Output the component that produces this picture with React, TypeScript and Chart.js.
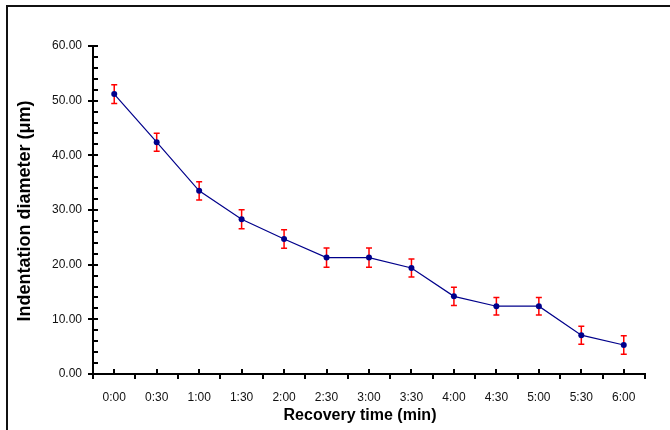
import React, { useEffect, useRef } from "react";
import { Chart, registerables } from "chart.js";

Chart.register(...registerables);

const categories = ["0:00", "0:30", "1:00", "1:30", "2:00", "2:30", "3:00", "3:30", "4:00", "4:30", "5:00", "5:30", "6:00"];
const meanValues = [51.2, 42.4, 33.5, 28.3, 24.7, 21.3, 21.3, 19.4, 14.2, 12.4, 12.4, 7.1, 5.3];
const errorValues = [1.7, 1.65, 1.65, 1.75, 1.7, 1.75, 1.75, 1.65, 1.65, 1.6, 1.6, 1.65, 1.7];
const yTitle = "Indentation diameter (\u03bcm)";
const xTitle = "Recovery time (min)";

const FONT = "'Liberation Sans', Arial, sans-serif";

const decorPlugin = {
  id: "decor",
  beforeDatasetsDraw(chart: any) {
    const ctx = chart.ctx;
    const x = chart.scales.x;
    const y = chart.scales.y;
    ctx.save();
    ctx.strokeStyle = "#ff0000";
    ctx.lineWidth = 1.5;
    meanValues.forEach((v, i) => {
      const px = x.getPixelForValue(i);
      const top = y.getPixelForValue(v + errorValues[i]);
      const bot = y.getPixelForValue(v - errorValues[i]);
      ctx.beginPath();
      ctx.moveTo(px, top);
      ctx.lineTo(px, bot);
      ctx.moveTo(px - 3, top);
      ctx.lineTo(px + 3, top);
      ctx.moveTo(px - 3, bot);
      ctx.lineTo(px + 3, bot);
      ctx.stroke();
    });
    ctx.restore();
  },
  afterDraw(chart: any) {
    const ctx = chart.ctx;
    const x = chart.scales.x;
    const y = chart.scales.y;
    const area = chart.chartArea;
    ctx.save();
    ctx.strokeStyle = "#000";
    ctx.lineWidth = 2;
    // y ticks
    for (let v = 0; v <= 60; v += 2) {
      const py = Math.round(y.getPixelForValue(v));
      ctx.beginPath();
      if (v % 10 === 0) {
        ctx.moveTo(area.left - 5, py);
        ctx.lineTo(area.left + 5, py);
      } else {
        ctx.moveTo(area.left, py);
        ctx.lineTo(area.left + 5, py);
      }
      ctx.stroke();
    }
    // x ticks
    const n = categories.length;
    const w = (area.right - area.left) / n;
    for (let i = 0; i < n; i++) {
      const px = Math.round(x.getPixelForValue(i));
      ctx.beginPath();
      ctx.moveTo(px, area.bottom);
      ctx.lineTo(px, area.bottom - 5);
      ctx.stroke();
    }
    for (let i = 0; i <= n; i++) {
      const px = Math.round(area.left + i * w);
      ctx.beginPath();
      ctx.moveTo(px, area.bottom);
      ctx.lineTo(px, area.bottom + 5);
      ctx.stroke();
    }
    // titles
    ctx.fillStyle = "#000";
    ctx.textAlign = "center";
    ctx.textBaseline = "middle";
    ctx.font = "bold 16px " + FONT;
    ctx.fillText(xTitle, 360, 416);
    ctx.save();
    ctx.translate(25, 211);
    ctx.rotate(-Math.PI / 2);
    ctx.font = "bold 18px " + FONT;
    ctx.fillText(yTitle, 0, 0);
    ctx.restore();
    // outer frame
    ctx.lineWidth = 2;
    ctx.strokeStyle = "#111";
    ctx.strokeRect(7, 6, 700, 460);
    ctx.restore();
  },
};

export default function App() {
  const ref = useRef<HTMLCanvasElement | null>(null);
  useEffect(() => {
    if (!ref.current) return;
    const chart = new Chart(ref.current, {
      type: "line",
      data: {
        labels: categories,
        datasets: [
          {
            data: meanValues,
            borderColor: "#00008b",
            backgroundColor: "#00008b",
            borderWidth: 1.2,
            pointRadius: 3,
            pointBorderWidth: 0,
            pointBackgroundColor: "#00008b",
            tension: 0,
          },
        ],
      },
      options: {
        responsive: false,
        animation: false,
        layout: { padding: { left: 0, top: 46, right: 25, bottom: 0 } },
        plugins: { legend: { display: false }, tooltip: { enabled: false } },
        scales: {
          x: {
            type: "category",
            offset: true,
            grid: { display: false },
            border: { display: true, color: "#000", width: 2 },
            ticks: { color: "#111", padding: 8, font: { family: FONT, size: 12 }, maxRotation: 0 },
            afterFit: (s: any) => { s.height = 56; },
          },
          y: {
            min: 0,
            max: 60,
            grid: { display: false },
            border: { display: true, color: "#000", width: 2 },
            ticks: {
              stepSize: 10,
              color: "#111",
              padding: 3,
              font: { family: FONT, size: 12 },
              callback: (v: any) => Number(v).toFixed(2),
            },
            afterFit: (s: any) => { s.width = 93; },
          },
        },
      },
      plugins: [decorPlugin],
    });
    return () => chart.destroy();
  }, []);
  return (
    <div style={{ position: "fixed", left: 0, top: 0, width: 670, height: 430, overflow: "hidden", background: "#fff" }}>
      <canvas ref={ref} width={670} height={430} style={{ display: "block" }} />
    </div>
  );
}
